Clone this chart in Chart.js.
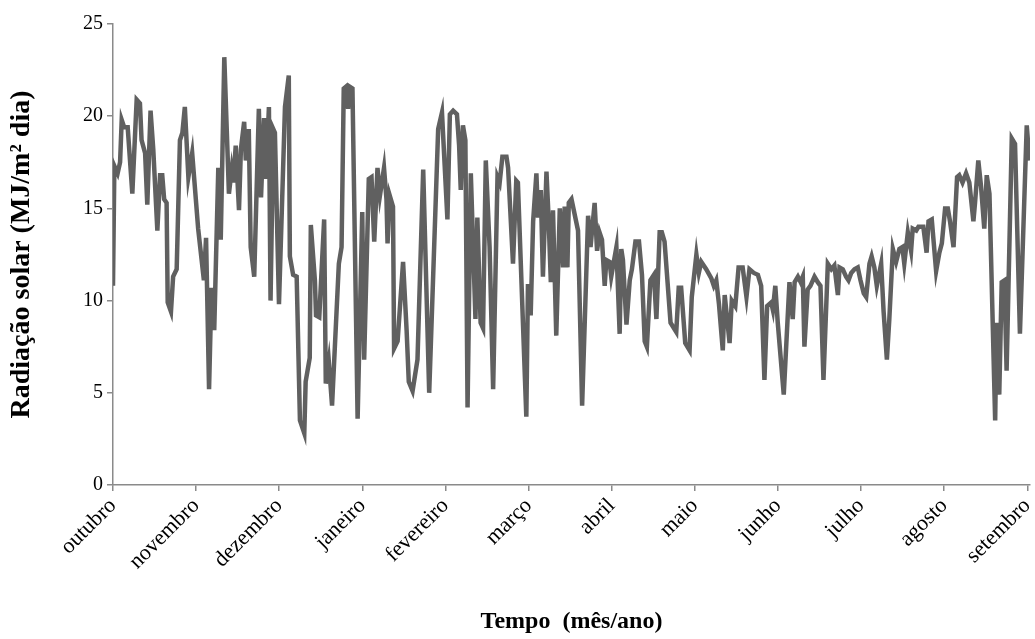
<!DOCTYPE html>
<html lang="pt">
<head>
  <meta charset="UTF-8">
  <title>Radiação solar diária</title>
  <script src="https://cdn.jsdelivr.net/npm/chart.js"></script>
  <style>
    html, body { margin: 0; padding: 0; background: #fff; }
    #wrap { width: 1035px; height: 639px; }
  </style>
</head>
<body>
  <div id="wrap"><canvas id="radChart" width="1035" height="639"></canvas></div>

  <script>
    // dias contados a partir de 1 de outubro
    const dias = [
      0,0.5,1.7,2.6,3.2,4.1,5.4,7.1,8.7,9.9,
      10.5,11.8,12.6,13.8,14.8,16.3,17.3,18.1,18.8,19.7,
      20.1,21.3,22.1,23.4,24.6,25.5,26.4,27.7,29.1,31.3,
      33.4,34.2,35.3,36.2,37.2,38.7,39.6,40.9,42.6,43.6,
      44.2,45.1,46.3,47.0,48.2,48.8,49.9,50.6,51.9,53.6,
      54.4,55.5,56.2,57.3,57.9,58.9,59.5,61.0,63.2,64.6,
      65.0,66.2,67.5,68.7,70.3,70.8,72.3,72.7,74.2,74.6,
      75.8,77.6,78.2,79.3,80.5,83.0,84.0,84.8,85.6,86.4,
      87.0,88.0,89.9,91.6,92.3,94.0,95.0,96.0,97.2,98.1,
      99.6,100.5,100.9,101.7,102.9,103.3,104.6,106.6,107.9,108.7,
      110.1,111.9,114.0,116.2,119.5,120.9,122.9,123.8,125.0,126.4,
      127.2,127.8,128.6,129.5,130.3,131.5,133.2,133.9,135.1,136.0,
      137.0,138.4,139.7,141.3,142.1,143.1,144.6,145.2,147.0,148.2,
      148.8,151.9,152.5,153.5,154.4,155.6,156.2,157.2,158.0,159.3,
      160.1,160.9,161.7,162.9,164.2,165.4,166.0,167.0,167.5,168.5,
      170.9,172.4,174.6,175.5,177.0,177.9,178.8,179.7,180.7,181.3,
      182.5,183.1,185.0,186.2,186.8,187.4,188.7,189.9,190.7,192.0,
      193.3,194.4,195.4,196.2,197.5,198.8,199.7,200.9,201.7,202.7,
      204.9,207.0,207.9,208.8,210.3,211.9,212.7,214.4,215.3,216.2,
      218.0,219.9,220.8,221.7,222.7,224.1,224.8,226.6,227.4,228.7,
      229.9,231.4,232.8,233.9,235.5,237.0,238.2,239.4,240.4,241.9,
      242.5,243.4,244.3,246.5,248.6,249.8,250.5,251.7,252.7,253.5,
      254.1,255.3,256.3,257.8,259.0,260.0,261.1,262.7,264.0,265.1,
      266.4,267.0,268.2,269.4,270.3,271.3,272.5,273.7,274.7,275.9,
      276.8,278.0,278.8,279.8,280.7,282.3,283.2,284.4,285.3,286.6,
      287.8,289.0,290.1,290.8,292.1,293.3,293.9,295.2,296.0,297.0,
      297.8,299.0,299.7,300.9,302.5,303.7,304.6,305.8,306.8,307.6,
      308.9,310.2,311.0,312.2,313.5,314.7,316.2,316.8,318.0,319.0,
      320.2,321.1,322.1,324.2,324.7,325.7,326.6,327.6,328.4,330.3,
      331.5,333.3,335.8,336.8
    ];

    // radiação solar (MJ/m² dia)
    const radiacao = [
      10.8,17.3,16.9,17.5,19.8,19.4,19.4,15.8,20.9,20.7,
      18.7,18.0,15.2,20.3,18.2,13.8,16.8,16.8,15.5,15.3,
      9.9,9.4,11.3,11.7,18.7,19.1,20.5,16.7,18.0,13.9,
      11.1,13.4,5.2,10.7,8.4,17.2,13.3,23.2,15.8,17.1,
      16.4,18.4,14.9,18.2,19.7,17.6,19.3,12.9,11.3,20.4,
      15.6,19.9,16.6,20.5,10.0,19.3,19.1,9.8,20.5,22.2,
      12.4,11.4,11.3,3.5,2.8,5.6,6.9,14.1,11.1,9.2,
      9.1,14.4,5.5,6.7,4.3,12.0,12.9,21.5,21.6,20.4,
      21.6,21.5,3.6,14.8,6.8,16.6,16.7,13.2,17.2,15.7,
      17.2,15.5,13.1,15.7,15.1,7.4,7.8,12.1,8.4,5.6,
      5.1,6.8,17.1,5.0,19.3,20.2,14.4,20.1,20.3,20.1,
      18.4,16.0,19.5,18.7,4.2,16.9,9.0,14.5,8.8,8.5,
      17.6,12.9,5.2,16.7,16.4,17.8,17.8,17.2,12.0,16.5,
      16.4,3.7,10.9,9.2,14.3,16.9,14.5,16.0,11.3,17.0,
      14.4,11.0,14.9,8.1,15.0,11.8,15.1,11.8,15.3,15.5,
      13.8,4.3,14.6,12.9,15.3,12.7,13.7,13.3,10.8,12.2,
      12.1,11.3,12.9,8.2,12.8,12.2,8.7,11.1,11.7,13.2,
      13.2,11.4,7.8,7.5,11.1,11.4,9.0,13.7,13.7,13.2,
      8.8,8.3,10.7,10.7,7.7,7.3,10.2,12.5,11.5,12.1,
      11.7,11.2,10.8,11.1,9.8,7.3,10.3,7.7,10.0,9.7,
      11.8,11.8,10.2,11.7,11.5,11.4,10.8,5.7,9.7,9.9,
      9.5,10.8,8.8,4.9,11.0,9.0,11.0,11.3,11.0,11.3,
      7.5,10.6,10.8,11.3,11.0,10.8,5.7,12.0,11.7,11.9,
      10.3,11.8,11.7,11.3,11.1,11.5,11.7,11.8,11.1,10.4,
      10.2,12.0,12.4,11.8,10.8,12.0,9.4,6.8,9.0,12.8,
      12.1,12.8,12.9,12.0,13.7,12.7,13.9,13.8,14.0,14.0,
      14.0,12.6,14.3,14.4,11.6,12.6,13.1,15.0,15.0,14.3,
      12.9,16.7,16.8,16.4,16.9,16.4,14.3,15.3,17.6,16.2,
      13.9,16.8,15.8,3.5,8.8,4.9,11.0,11.1,6.2,18.8,
      18.5,8.2,19.5,17.6
    ];

    const meses = ['outubro','novembro','dezembro','janeiro','fevereiro','março',
                   'abril','maio','junho','julho','agosto','setembro'];
    const passoMes = 336 / 11;

    const serif = '"Liberation Serif", "Times New Roman", serif';
    const eixoCor = '#8a8a8a';

    new Chart(document.getElementById('radChart'), {
      type: 'line',
      data: {
        datasets: [{
          data: dias.map((d, i) => ({ x: d, y: radiacao[i] })),
          borderColor: '#606060',
          borderWidth: 4.5,
          pointRadius: 0,
          tension: 0,
          fill: false
        }]
      },
      options: {
        responsive: false,
        animation: false,
        devicePixelRatio: 1,
        layout: { padding: { left: 0, right: 5, top: 24, bottom: 0 } },
        plugins: { legend: { display: false }, tooltip: { enabled: false } },
        scales: {
          x: {
            type: 'linear',
            min: 0,
            max: 337,
            afterBuildTicks: s => { s.ticks = meses.map((m, i) => ({ value: i * passoMes })); },
            afterFit: s => { s.height = 154; s.paddingLeft = 0; s.paddingRight = 0; },
            ticks: {
              autoSkip: false,
              maxRotation: 45,
              minRotation: 45,
              padding: 2,
              color: '#000',
              font: { family: serif, size: 22 },
              callback: (v, i) => meses[i]
            },
            grid: { drawOnChartArea: false, drawTicks: true, tickLength: 6, color: eixoCor, lineWidth: 1.5 },
            border: { color: eixoCor, width: 1.5 },
            title: {
              display: true,
              text: 'Tempo  (mês/ano)',
              color: '#000',
              font: { family: serif, size: 24, weight: 'bold' },
              padding: { top: 0, bottom: 3 }
            }
          },
          y: {
            min: 0,
            max: 25,
            afterFit: s => { s.width = 113; s.paddingTop = 0; s.paddingBottom = 0; },
            ticks: {
              stepSize: 5,
              padding: 4,
              color: '#000',
              font: { family: serif, size: 20 }
            },
            grid: { drawOnChartArea: false, drawTicks: true, tickLength: 6, color: eixoCor, lineWidth: 1.5 },
            border: { color: eixoCor, width: 1.5 },
            title: {
              display: true,
              text: 'Radiação solar (MJ/m² dia)',
              color: '#000',
              font: { family: serif, size: 28, weight: 'bold' },
              padding: { top: 5, bottom: 0 }
            }
          }
        }
      }
    });
  </script>
</body>
</html>
